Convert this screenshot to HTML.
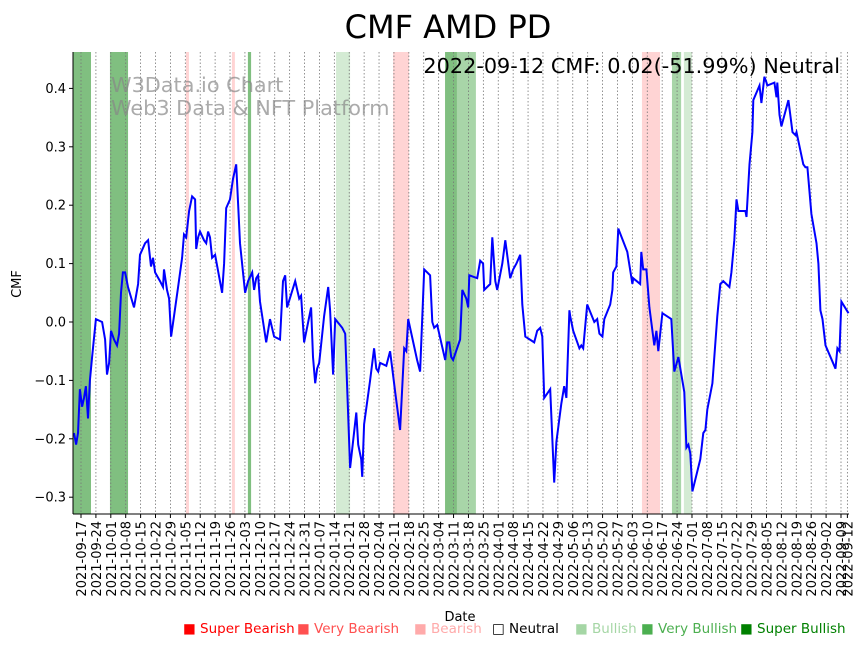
<!DOCTYPE html>
<html><head><meta charset="utf-8"><style>
body{margin:0;background:#fff;font-family:"Liberation Sans","DejaVu Sans",sans-serif}
svg text{font-family:"DejaVu Sans","Liberation Sans",sans-serif}
</style></head><body>
<svg id="c" width="867" height="646" xmlns="http://www.w3.org/2000/svg">
<text x="448" y="38" font-size="32" text-anchor="middle">CMF AMD PD</text>
<g id="bands"></g>
<g id="grid"></g>
<text x="111" y="92" font-size="20.8" fill="#888" fill-opacity="0.7">W3Data.io Chart</text>
<text x="111" y="115" font-size="20.8" fill="#888" fill-opacity="0.7">Web3 Data &amp; NFT Platform</text>
<text x="840" y="73" font-size="20.8" text-anchor="end">2022-09-12 CMF: 0.02(-51.99%) Neutral</text>
<path id="line" fill="none" stroke="#0000ff" stroke-width="2"/>
<g id="axes"></g>
<text transform="translate(21,284) rotate(-90)" font-size="13" text-anchor="middle">CMF</text>
<text x="460" y="621" font-size="13" text-anchor="middle">Date</text>
<g font-size="13.5">
<text x="183" y="633" fill="#ff0000">■ Super Bearish</text>
<text x="297" y="633" fill="#ff5050">■ Very Bearish</text>
<text x="414" y="633" fill="#ffaaaa">■ Bearish</text>
<text x="492" y="633" fill="#000">□ Neutral</text>
<text x="575" y="633" fill="#a5d6a5">■ Bullish</text>
<text x="641" y="633" fill="#4caf50">■ Very Bullish</text>
<text x="740" y="633" fill="#008000">■ Super Bullish</text>
</g>
</svg>
<script>
// days since 2021-09-17
const days=[-3.3,-2.3,-1.4,-0.5,0.5,1.4,2.3,3.3,4.2,5.2,7.0,9.9,11.3,12.2,13.2,14.1,15.5,16.9,17.9,18.8,19.7,20.7,22.1,24.9,26.8,27.7,30.1,31.5,32.9,33.8,34.8,37.1,38.5,39.0,40.4,41.4,42.3,43.7,45.6,47.5,48.4,49.4,50.8,52.2,53.6,54.1,55.0,55.9,57.8,58.8,59.7,60.6,61.6,63.0,66.3,67.2,68.2,70.0,71.4,72.9,74.7,77.1,78.5,80.4,81.3,82.3,83.2,84.1,87.0,88.8,90.7,93.5,94.9,95.9,96.8,100.6,102.5,103.4,104.8,108.1,109.0,110.0,110.9,111.9,114.2,116.1,117.0,118.4,119.4,122.7,124.1,126.4,129.3,130.2,131.6,132.1,133.0,135.8,137.7,138.7,139.6,140.5,143.4,145.2,147.6,149.9,151.8,152.8,153.7,157.9,159.3,161.2,164.0,165.0,165.9,167.3,171.1,172.0,173.0,173.9,174.8,178.1,179.1,181.0,181.9,182.4,186.1,187.5,188.9,189.4,192.2,193.2,194.6,195.5,197.9,199.3,201.6,203.0,204.5,206.3,207.3,208.7,212.9,214.3,215.7,216.7,217.6,220.4,222.3,223.3,225.6,227.0,228.0,229.4,229.8,231.2,234.1,235.0,235.9,237.8,241.1,242.5,243.5,244.9,245.8,248.6,249.6,250.0,251.5,252.4,256.6,259.0,259.4,262.7,263.2,264.1,265.6,267.0,269.3,270.3,271.2,273.1,277.3,278.7,280.6,283.4,284.4,285.3,286.2,287.2,290.9,292.3,293.3,294.2,296.6,298.9,300.3,301.7,304.6,305.5,306.9,307.9,308.8,312.1,312.6,314.0,315.4,315.8,318.7,319.6,321.0,322.0,322.4,325.7,326.7,327.1,328.1,329.0,332.3,334.2,335.6,336.1,339.3,340.3,341.2,343.1,345.5,346.4,347.3,348.3,349.7,354.4,355.3,356.3,357.2,360.5];
const cmf=[-0.19,-0.21,-0.19,-0.115,-0.145,-0.13,-0.11,-0.165,-0.10,-0.06,0.005,0.0,-0.03,-0.09,-0.07,-0.015,-0.03,-0.04,-0.02,0.05,0.085,0.085,0.06,0.025,0.065,0.115,0.135,0.14,0.095,0.11,0.085,0.07,0.06,0.09,0.055,0.04,-0.025,0.01,0.06,0.11,0.15,0.145,0.19,0.215,0.21,0.125,0.145,0.155,0.14,0.135,0.155,0.145,0.11,0.115,0.05,0.1,0.195,0.21,0.245,0.27,0.135,0.05,0.07,0.085,0.055,0.075,0.08,0.035,-0.035,0.005,-0.025,-0.03,0.07,0.08,0.025,0.07,0.04,0.045,-0.035,0.025,-0.06,-0.105,-0.08,-0.07,0.01,0.06,0.02,-0.09,0.005,-0.01,-0.02,-0.25,-0.155,-0.21,-0.235,-0.265,-0.175,-0.1,-0.045,-0.08,-0.085,-0.07,-0.075,-0.05,-0.12,-0.185,-0.045,-0.05,0.005,-0.065,-0.085,0.09,0.08,0.0,-0.01,-0.005,-0.065,-0.035,-0.035,-0.06,-0.065,-0.03,0.055,0.04,0.025,0.08,0.075,0.105,0.1,0.055,0.065,0.145,0.07,0.055,0.1,0.14,0.075,0.09,0.1,0.115,0.03,-0.025,-0.035,-0.015,-0.01,-0.025,-0.13,-0.115,-0.275,-0.205,-0.14,-0.11,-0.13,0.02,0.01,-0.015,-0.045,-0.04,-0.045,0.03,0.0,0.005,-0.02,-0.025,0.005,0.03,0.055,0.085,0.095,0.16,0.12,0.065,0.075,0.065,0.12,0.09,0.09,0.025,-0.04,-0.015,-0.05,0.015,0.005,-0.085,-0.06,-0.12,-0.215,-0.21,-0.225,-0.29,-0.235,-0.19,-0.185,-0.15,-0.105,0.01,0.065,0.07,0.06,0.085,0.14,0.21,0.19,0.19,0.18,0.27,0.325,0.38,0.405,0.375,0.42,0.41,0.405,0.41,0.385,0.41,0.355,0.335,0.38,0.325,0.32,0.325,0.27,0.265,0.265,0.185,0.135,0.1,0.02,0.005,-0.04,-0.08,-0.045,-0.05,0.035,0.015];
const bandStart=[-3.8,13.6,78.4,49.3,70.9,146.6,263.5,119.8,283.2,171,176.6,277.6];
const bandEnd=[4.7,22.1,79.9,50.7,72.3,154.1,272,126.4,287,176.6,185.5,281.9];
const bandType=["vbull","vbull","vbull","bear","bear","bear","bear","bull","bull","vbull","mbull","mbull"];
const yTicks=[-0.3,-0.2,-0.1,0.0,0.1,0.2,0.3,0.4];
const tickLabels=["2021-09-17","2021-09-24","2021-10-01","2021-10-08","2021-10-15","2021-10-22","2021-10-29","2021-11-05","2021-11-12","2021-11-19","2021-11-26","2021-12-03","2021-12-10","2021-12-17","2021-12-24","2021-12-31","2022-01-07","2022-01-14","2022-01-21","2022-01-28","2022-02-04","2022-02-11","2022-02-18","2022-02-25","2022-03-04","2022-03-11","2022-03-18","2022-03-25","2022-04-01","2022-04-08","2022-04-15","2022-04-22","2022-04-29","2022-05-06","2022-05-13","2022-05-20","2022-05-27","2022-06-03","2022-06-10","2022-06-17","2022-06-24","2022-07-01","2022-07-08","2022-07-15","2022-07-22","2022-07-29","2022-08-05","2022-08-12","2022-08-19","2022-08-26","2022-09-02","2022-09-09","2022-09-12"];
const tickDays=[0,7,14,21,28,35,42,49,56,63,70,77,84,91,98,105,112,119,126,133,140,147,154,161,168,175,182,189,196,203,210,217,224,231,238,245,252,259,266,273,280,287,294,301,308,315,322,329,336,343,350,357,360];
const L=73,R=849,T=52,B=514;
const X=d=>81+d*760/357;
const Y=v=>322-v*584;
const NS="http://www.w3.org/2000/svg";
const colors={vbull:"#80bf80",mbull:"#a8d5a8",bull:"#d4ebd4",bear:"#ffd4d4"};
const bands=document.getElementById('bands');
for(let i=0;i<bandStart.length;i++){
 const r=document.createElementNS(NS,'rect');
 const x0=Math.max(L,X(bandStart[i])),x1=Math.min(R,X(bandEnd[i]));
 r.setAttribute('x',x0);r.setAttribute('y',T);r.setAttribute('width',x1-x0);r.setAttribute('height',B-T);
 r.setAttribute('fill',colors[bandType[i]]);
 
 
 bands.appendChild(r);
}
const grid=document.getElementById('grid'),axes=document.getElementById('axes');
tickDays.forEach((d,i)=>{
 const x=X(d);
 const g=document.createElementNS(NS,'line');
 g.setAttribute('x1',x);g.setAttribute('x2',x);g.setAttribute('y1',T);g.setAttribute('y2',B);
 g.setAttribute('stroke','#777');g.setAttribute('stroke-width','0.8');g.setAttribute('stroke-dasharray','1.5,2');
 
 
 grid.appendChild(g);
 const t=document.createElementNS(NS,'line');
 t.setAttribute('x1',x);t.setAttribute('x2',x);t.setAttribute('y1',B);t.setAttribute('y2',B+4);t.setAttribute('stroke','#000');
 
 
 axes.appendChild(t);
 const lb=document.createElementNS(NS,'text');
 lb.setAttribute('transform',`translate(${x+5},${B+7}) rotate(-90)`);
 lb.setAttribute('font-size','13');lb.setAttribute('text-anchor','end');
 lb.textContent=tickLabels[i];
 
 
 axes.appendChild(lb);
});
yTicks.forEach(v=>{
 const y=Y(v);
 const t=document.createElementNS(NS,'line');
 t.setAttribute('x1',L-4);t.setAttribute('x2',L);t.setAttribute('y1',y);t.setAttribute('y2',y);t.setAttribute('stroke','#000');
 
 
 axes.appendChild(t);
 const lb=document.createElementNS(NS,'text');
 lb.setAttribute('x',L-7);lb.setAttribute('y',y+4.5);lb.setAttribute('font-size','13');lb.setAttribute('text-anchor','end');
 lb.textContent=(v<0?'\u2212':'')+Math.abs(v).toFixed(1);
 
 
 axes.appendChild(lb);
});
[[L,T,L,B],[L,B,R,B]].forEach(a=>{
 const l=document.createElementNS(NS,'line');
 l.setAttribute('x1',a[0]);l.setAttribute('y1',a[1]);l.setAttribute('x2',a[2]);l.setAttribute('y2',a[3]);
 l.setAttribute('stroke','#000');l.setAttribute('stroke-width','1');
 
 
 axes.appendChild(l);
});
let d='';
days.forEach((dd,i)=>{d+=(i?'L':'M')+Math.min(R,Math.max(L,X(dd))).toFixed(1)+','+Y(cmf[i]).toFixed(1);});
document.getElementById('line').setAttribute('d',d);
</script>
</body></html>
